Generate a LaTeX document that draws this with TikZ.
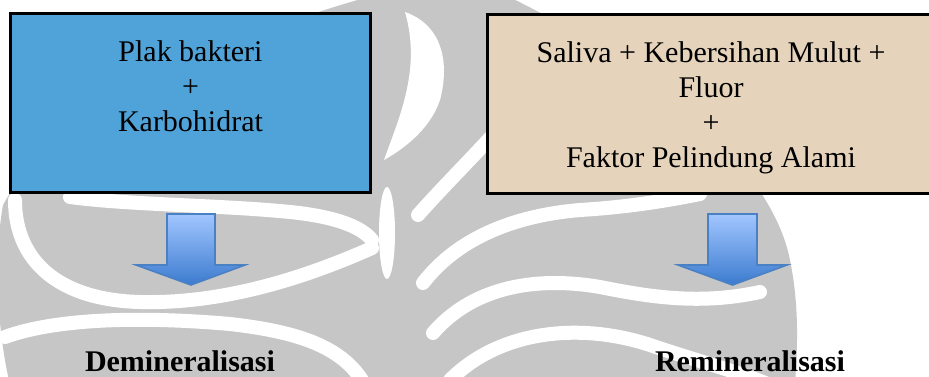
\documentclass[tikz,border=0pt]{standalone}
\usepackage{fontspec}
\setmainfont{Liberation Serif}
\usetikzlibrary{calc}
\definecolor{wmgray}{HTML}{C6C6C6}
\definecolor{boxblue}{HTML}{4FA3D9}
\definecolor{boxbeige}{HTML}{E5D3BB}
\definecolor{arrtop}{HTML}{A2C6FF}
\definecolor{arrbot}{HTML}{3C7BCF}
\definecolor{arredge}{HTML}{4A80C4}
\tikzset{
  wmband/.style={draw=white, line width=14pt, line cap=round},
  boxframe/.style={draw=black, line width=3pt},
  boxtext/.style={inner sep=0pt, align=center, anchor=north, font=\fontsize{30}{35}\selectfont},
  labeltext/.style={inner sep=0pt, anchor=base, font=\fontsize{30}{35}\selectfont\bfseries},
  blockarrow/.style={draw=arredge, line width=1.6pt, line join=miter, top color=arrtop, bottom color=arrbot}
}
\begin{document}
\begin{tikzpicture}[x=1pt, y=-1pt]
\useasboundingbox (0,0) rectangle (929,377);
\clip (0,0) rectangle (929,377);
\fill[white] (0,0) rectangle (929,377);
% watermark emblem (approximation)
\fill[wmgray] (375,-5) -- (505,-5) .. controls (640,60) and (770,160) .. (790,260)
  .. controls (800,310) and (797,350) .. (795,385) -- (10,385)
  .. controls (-5,320) and (-5,250) .. (3,205) .. controls (60,100) and (250,30) .. (375,-5) -- cycle;
\fill[white] (405,12) .. controls (442,25) and (450,62) .. (440,100)
  .. controls (430,130) and (402,150) .. (384,160)
  .. controls (398,120) and (422,70) .. (405,12) -- cycle;
\fill[white] (387,233) ellipse [x radius=8, y radius=46];
\draw[wmband] (490,138) .. controls (470,160) and (440,190) .. (418,215);
\draw[wmband] (423,283) .. controls (460,235) and (520,215) .. (580,210) .. controls (630,207) and (670,200) .. (700,194);
\draw[wmband] (433,333) .. controls (470,290) and (530,275) .. (600,287) .. controls (650,297) and (700,305) .. (760,292);
\draw[wmband] (450,380) .. controls (500,330) and (580,322) .. (650,345) .. controls (700,362) and (740,372) .. (770,385);
\draw[wmband] (70,197) .. controls (130,205) and (220,205) .. (290,212) .. controls (330,216) and (360,225) .. (372,240);
\draw[wmband] (15,200) .. controls (15,262) and (60,300) .. (140,302) .. controls (220,304) and (300,280) .. (372,248);
\draw[wmband] (5,337) .. controls (60,317) and (150,317) .. (230,324) .. controls (300,332) and (340,347) .. (362,380);
% boxes
\node[boxframe, fill=boxblue, minimum width=360pt, minimum height=179pt, inner sep=0pt] (leftbox) at (190.5,103) {};
\node[boxframe, fill=boxbeige, minimum width=453pt, minimum height=178pt, inner sep=0pt, anchor=north west] (rightbox) at (485.5,13.5) {};
\node[boxtext] (lefttext) at (190.5,40.5) {Plak bakteri\\+\\Karbohidrat};
\node[boxtext] (righttext) at (711,41.5) {Saliva + Kebersihan Mulut +\\Fluor\\+\\Faktor Pelindung Alami};
% block arrows
\coordinate (la) at (191,214);
\coordinate (ra) at (732.5,214);
\path[blockarrow] ($(la)+(-24,0)$) -- ($(la)+(24,0)$) -- ($(la)+(24,51)$) -- ($(la)+(54,51)$)
  -- ($(la)+(0,71)$) -- ($(la)+(-55,51)$) -- ($(la)+(-24,51)$) -- cycle;
\path[blockarrow] ($(ra)+(-24.5,0)$) -- ($(ra)+(24.5,0)$) -- ($(ra)+(24.5,51)$) -- ($(ra)+(54.5,51)$)
  -- ($(ra)+(0,71)$) -- ($(ra)+(-54.5,51)$) -- ($(ra)+(-24.5,51)$) -- cycle;
% labels
\node[labeltext] (demin) at (180,371) {Demineralisasi};
\node[labeltext] (remin) at (750,371) {Remineralisasi};
\end{tikzpicture}
\end{document}
